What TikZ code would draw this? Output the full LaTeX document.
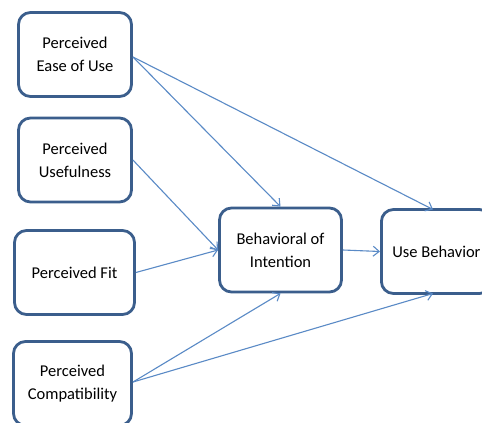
\documentclass[tikz,border=0pt]{standalone}
\usepackage{fontspec}
\setmainfont{Carlito}
\usetikzlibrary{arrows.meta,calc}
\definecolor{boxc}{HTML}{3B5E8C}
\definecolor{arrc}{HTML}{5A8AC6}
\tikzset{
  box/.style={draw=boxc, line width=2.8pt, rounded corners=12pt, fill=white, align=center,
    font=\fontsize{16.5}{23}\selectfont, inner sep=0pt, minimum height=84pt},
  arr/.style={draw=arrc, line width=1.1pt, -{Straight Barb[length=6pt,width=10pt,line width=1.1pt]}}
}
\begin{document}
\begin{tikzpicture}[x=1pt,y=-1pt]
\useasboundingbox (0,0) rectangle (482,423);
\clip (0,0) rectangle (482,423);
\fill[white] (0,0) rectangle (482,423);
\node[box, minimum width=113pt] (pe) at (75,54.5) {Perceived\\Ease of Use};
\node[box, minimum width=113pt] (pu) at (75,160) {Perceived\\Usefulness};
\node[box, minimum width=120pt] (pf) at (74.5,272.5) {Perceived Fit};
\node[box, minimum width=118pt] (pc) at (72.5,383.5) {Perceived\\Compatibility};
\node[box, minimum width=122pt] (bi) at (280.5,250) {Behavioral of\\Intention};
\node[box, minimum width=110pt] (ub) at (436.4,251.5) {Use Behavior};
\coordinate (ubtop) at (433,209.5);
\coordinate (ubbot) at (433,293.5);
\coordinate (pes) at (133,57);
\coordinate (pcs) at (133,382);
\draw[arr] (pes) -- (bi.north);
\draw[arr] (pes) -- (ubtop);
\draw[arr] (pu.east) -- (bi.west);
\draw[arr] (pf.east) -- (bi.west);
\draw[arr] (pcs) -- (bi.south);
\draw[arr] (pcs) -- (ubbot);
\draw[arr] (bi.east) -- (ub.west);
\end{tikzpicture}
\end{document}
